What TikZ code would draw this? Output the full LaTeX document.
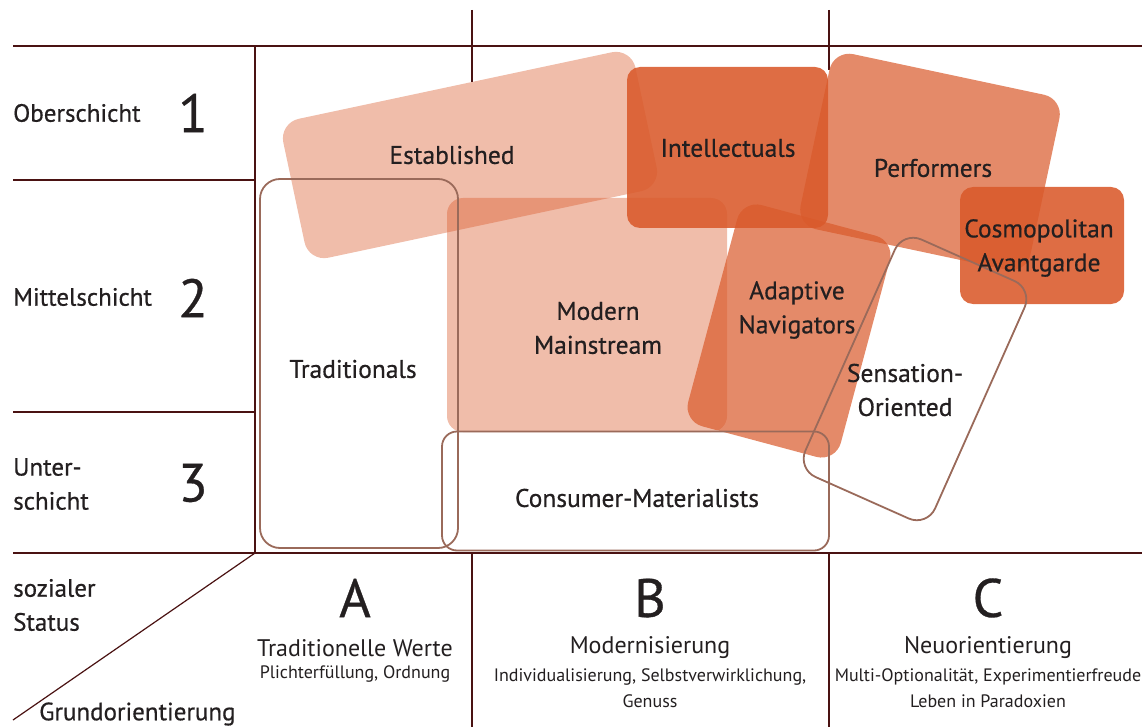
\documentclass[tikz,border=0pt]{standalone}
\usepackage{fontspec}
\setmainfont{PT Sans}
\newfontfamily\medfont{PT Sans}[FakeBold=0.6]
\usetikzlibrary{positioning}
\definecolor{rust}{HTML}{D9592A}
\definecolor{frame}{HTML}{4A1212}
\definecolor{edge}{HTML}{9A6A5A}
\definecolor{ink}{HTML}{231F20}

\begin{document}
\begin{tikzpicture}[
  x=1pt,y=-1pt,
  every node/.style={text=ink,inner sep=2pt},
  grid/.style={draw=frame,line width=1.2pt},
  light/.style={fill=rust,fill opacity=0.4,rounded corners=20pt},
  medium/.style={fill=rust,fill opacity=0.7,rounded corners=20pt},
  dark/.style={fill=rust,fill opacity=0.88,rounded corners=13pt},
  ring/.style={draw=edge,line width=1.8pt,rounded corners=20pt},
  seglbl/.style={font=\medfont\fontsize{25.5}{34}\selectfont,align=center},
  rowlbl/.style={font=\medfont\fontsize{25}{34}\selectfont,align=left,anchor=west},
  digit/.style={font=\medfont\fontsize{54}{60}\selectfont},
  coltitle/.style={font=\fontsize{24}{26}\selectfont},
  colsub/.style={font=\fontsize{18}{26}\selectfont,align=center}
]
  % frame of the table
  \useasboundingbox (0,0) rectangle (1142,727);
  \draw[grid] (13,46) -- (1142,46);
  \draw[grid] (13,180) -- (255,180);
  \draw[grid] (13,412) -- (255,412);
  \draw[grid,line width=2.2pt] (13,553) -- (1142,553);
  \draw[grid] (255,46) -- (255,553);
  \draw[grid] (472,10) -- (472,82);
  \draw[grid] (829,10) -- (829,70);
  \draw[grid] (472,553) -- (472,727);
  \draw[grid] (829,553) -- (829,727);
  \draw[grid] (255,553) -- (13,720);

  % milieus
  \node[light,minimum width=360pt,minimum height=142pt,rotate=12] (est) at (470,155) {};
  \node[light,minimum width=280pt,minimum height=234pt,rounded corners=16pt] (mm) at (587,315) {};
  \node[dark,minimum width=201pt,minimum height=161pt] (int) at (727.5,147.5) {};
  \node[medium,minimum width=158pt,minimum height=229pt,rotate=-15] (ada) at (789,331) {};
  \node[medium,minimum width=235pt,minimum height=179pt,rotate=-12] (perf) at (930,162) {};
  \node[dark,minimum width=164pt,minimum height=117pt] (cos) at (1042,245.5) {};
  \node[ring,minimum width=198pt,minimum height=369pt] (trad) at (359,363.5) {};
  \node[ring,minimum width=387pt,minimum height=119pt,rounded corners=15pt] (cm) at (635.5,491) {};
  \node[ring,minimum width=142pt,minimum height=260pt,rotate=-24] (sens) at (915,379) {};

  \node[seglbl] (estL) at (452,155) {Established};
  \node[seglbl] (intL) at (728,148) {Intellectuals};
  \node[seglbl] (perfL) at (933,168) {Performers};
  \node[seglbl] (cosL) at (1039,248) {Cosmopolitan\\Avantgarde};
  \node[seglbl] (adaL) at (797,310) {Adaptive\\Navigators};
  \node[seglbl] (mmL) at (598,328) {Modern\\Mainstream};
  \node[seglbl] (tradL) at (353,369) {Traditionals};
  \node[seglbl] (sensL) at (905,390) {Sensation-\\Oriented};
  \node[seglbl] (cmL) at (637,498) {Consumer-Materialists};

  % social status
  \node[rowlbl] (ober) at (11,113) {Oberschicht};
  \node[digit] (one) at (193,113) {1};
  \node[rowlbl] (mittel) at (11,297) {Mittelschicht};
  \node[digit] (two) at (193,298) {2};
  \node[rowlbl] (unter) at (11,484) {Unter-\\schicht};
  \node[digit] (three) at (193,483) {3};
  \node[rowlbl] (status) at (11,605) {sozialer\\Status};
  \node[rowlbl] (grund) at (37,714) {Grundorientierung};

  % basic orientation
  \node[digit] (colA) at (355,598) {A};
  \node[coltitle] (twerte) at (355,648) {Traditionelle Werte};
  \node[colsub,below=5pt of twerte] (twSub) {Plichterfüllung, Ordnung};
  \node[digit] (colB) at (650,598) {B};
  \node[coltitle] (modern) at (650,648) {Modernisierung};
  \node[colsub,below=5pt of modern] (modSub) {Individualisierung, Selbstverwirklichung,\\Genuss};
  \node[digit] (colC) at (988,598) {C};
  \node[coltitle] (neu) at (988,648) {Neuorientierung};
  \node[colsub,below=5pt of neu] (neuSub) {Multi-Optionalität, Experimentierfreude\\Leben in Paradoxien};
\end{tikzpicture}
\end{document}
